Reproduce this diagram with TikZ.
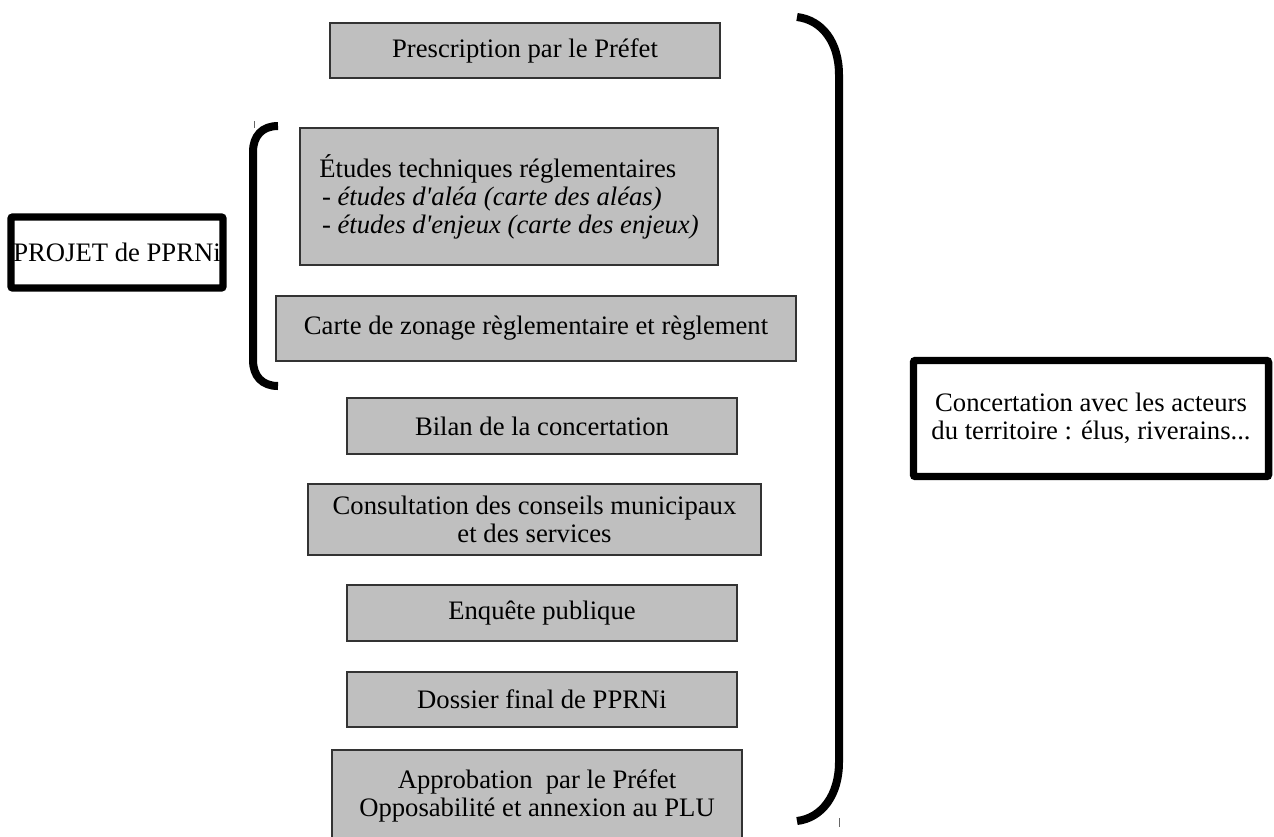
\documentclass[tikz,border=0pt]{standalone}
\usepackage{fontspec}
\setmainfont{Liberation Serif}

\begin{document}
\begin{tikzpicture}[x=0.75pt,y=-0.75pt,
  stage/.style={draw=black!80,line width=0.8pt,fill=gray!50,inner sep=0pt,align=center},
  tag/.style={draw=black,line width=5.6pt,rounded corners=1.5pt,fill=white,inner sep=0pt,align=center},
  brace/.style={line width=6pt},
  font=\fontsize{20}{21}\selectfont]
\useasboundingbox (0,0) rectangle (1274,836);
% steps of the procedure
\node[stage,minimum width=292.5pt,minimum height=41.25pt] (presc) at (525,50.5) {Prescription par le Préfet};
\node[stage,minimum width=313.5pt,minimum height=102.75pt,align=left] (etudes) at (509,196.5)
  {Études techniques réglementaires\\
   \hspace{2pt}- \textit{études d\textquotesingle aléa (carte des aléas)}\\
   \hspace{2pt}- \textit{études d\textquotesingle enjeux (carte des enjeux)}};
\node[stage,minimum width=390pt,minimum height=48.75pt] (zonage) at (536,328.5) {Carte de zonage règlementaire et règlement};
\node[stage,minimum width=292.5pt,minimum height=42pt] (bilan) at (542,426) {Bilan de la concertation};
\node[stage,minimum width=339.75pt,minimum height=53.25pt] (consult) at (534.5,519.5) {Consultation des conseils municipaux\\et des services};
\node[stage,minimum width=292.5pt,minimum height=42pt] (enquete) at (542,613) {Enquête publique};
\node[stage,minimum width=292.5pt,minimum height=41.25pt] (dossier) at (542,699.5) {Dossier final de PPRNi};
\node[stage,minimum width=307.5pt,minimum height=69pt] (approb) at (537,796) {Approbation~ par le Préfet\\Opposabilité et annexion au PLU};
% side labels
\node[tag,minimum width=159pt,minimum height=53.25pt] (projet) at (117,252.5) {PROJET de PPRNi};
\node[tag,minimum width=266.25pt,minimum height=87pt] (concert) at (1091,418.5) {Concertation avec les acteurs\\du territoire : élus, riverains...};
% brackets
\draw[brace] (278,126) .. controls (262,126) and (253,136) .. (253,152) -- (253,360)
  .. controls (253,376) and (262,386) .. (278,386);
\draw[brace] (797,17) .. controls (822,20) and (839,42) .. (839,75) -- (839,762)
  .. controls (839,795) and (822,818) .. (797,821);
\draw[black!60,line width=0.6pt] (254,121) -- (254,128);
\draw[black!60,line width=0.6pt] (839,818) -- (839,827);
\end{tikzpicture}
\end{document}
